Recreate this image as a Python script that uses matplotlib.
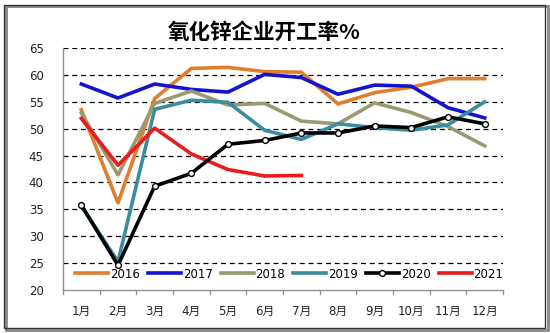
import matplotlib
matplotlib.use("Agg")
import matplotlib.pyplot as plt
from matplotlib.patches import Rectangle

plt.rcParams['font.family'] = ['DejaVu Sans', 'Noto Sans CJK SC']

months = ['1月', '2月', '3月', '4月', '5月', '6月', '7月', '8月', '9月', '10月', '11月', '12月']

y2016 = [53.5, 36.2, 55.6, 61.2, 61.4, 60.6, 60.5, 54.6, 56.7, 57.7, 59.3, 59.3]
y2017 = [58.3, 55.7, 58.3, 57.3, 56.8, 60.1, 59.5, 56.4, 58.1, 57.9, 53.9, 52.0]
y2018 = [52.9, 41.4, 54.7, 57.0, 54.4, 54.7, 51.4, 50.9, 54.8, 53.0, 50.4, 46.8]
y2019 = [35.6, 25.3, 53.6, 55.3, 54.9, 49.7, 48.0, 50.9, 50.2, 49.7, 50.7, 55.0]
y2020 = [35.8, 24.6, 39.3, 41.7, 47.1, 47.8, 49.2, 49.2, 50.5, 50.2, 52.2, 50.9]
y2021 = [51.9, 43.2, 50.1, 45.3, 42.4, 41.2, 41.3]

series = [
    ('2016', y2016, '#E07E2E'),
    ('2017', y2017, '#1414CC'),
    ('2018', y2018, '#9A9A70'),
    ('2019', y2019, '#3A8C9E'),
    ('2020', y2020, '#000000'),
    ('2021', y2021, '#E81C1C'),
]

fig = plt.figure(figsize=(5.5, 3.33), dpi=100)
ax = fig.add_axes([63/550, 1-290/333, 440/550, 242/333])

x = list(range(len(months)))
handles = []
for name, vals, color in series:
    xs = x[:len(vals)]
    if name == '2020':
        h, = ax.plot(xs, vals, color=color, lw=2.6, marker='o', ms=4.2,
                     mfc='white', mec='black', mew=1.0, zorder=5)
    else:
        h, = ax.plot(xs, vals, color=color, lw=2.6, zorder=4)
    handles.append(h)

ax.set_xlim(-0.5, 11.5)
ax.set_ylim(20, 65)
ax.set_yticks(range(20, 66, 5))
ax.set_xticks(x)
ax.set_xticklabels(months, fontsize=8.5, color='#222222',
                   fontfamily=['DejaVu Sans', 'Noto Sans CJK SC'])
ax.tick_params(axis='x', length=0, pad=11)
ax.tick_params(axis='y', length=0, pad=14, labelsize=8.5, labelcolor='#222222')

# category boundary tick marks below the x axis
for b in [i + 0.5 for i in range(-1, 12)]:
    ax.plot([b, b], [20, 19.2], color='#909090', lw=0.9, clip_on=False, zorder=3)

for v in range(25, 66, 5):
    ax.axhline(v, color='black', lw=0.9, ls=(0, (4, 3)), zorder=1)

for s in ['top', 'right']:
    ax.spines[s].set_visible(False)
for s in ['left', 'bottom']:
    ax.spines[s].set_color('#909090')
    ax.spines[s].set_linewidth(1.0)

leg = ax.legend(handles, [s[0] for s in series], ncol=6, loc='lower center',
                bbox_to_anchor=(0.514, 0.0), frameon=False, fontsize=8.5,
                handlelength=2.8, handletextpad=0.15, columnspacing=0.68,
                borderaxespad=0.4)
leg.set_zorder(6)

fig.text(0.48, 1-32/333, '氧化锌企业开工率%', ha='center', va='center',
         fontsize=15.5, fontweight='bold', family=['Noto Sans CJK SC'])

# outer frame with a small shadow
fig.patches.append(Rectangle((6/550, 3/333), 542/550, 324/333, transform=fig.transFigure,
                             fill=False, edgecolor='#888888', lw=2.0))
fig.patches.append(Rectangle((4/550, 5/333), 541/550, 323/333, transform=fig.transFigure,
                             fill=False, edgecolor='#333333', lw=1.0))

fig.savefig('out.png', dpi=100)
